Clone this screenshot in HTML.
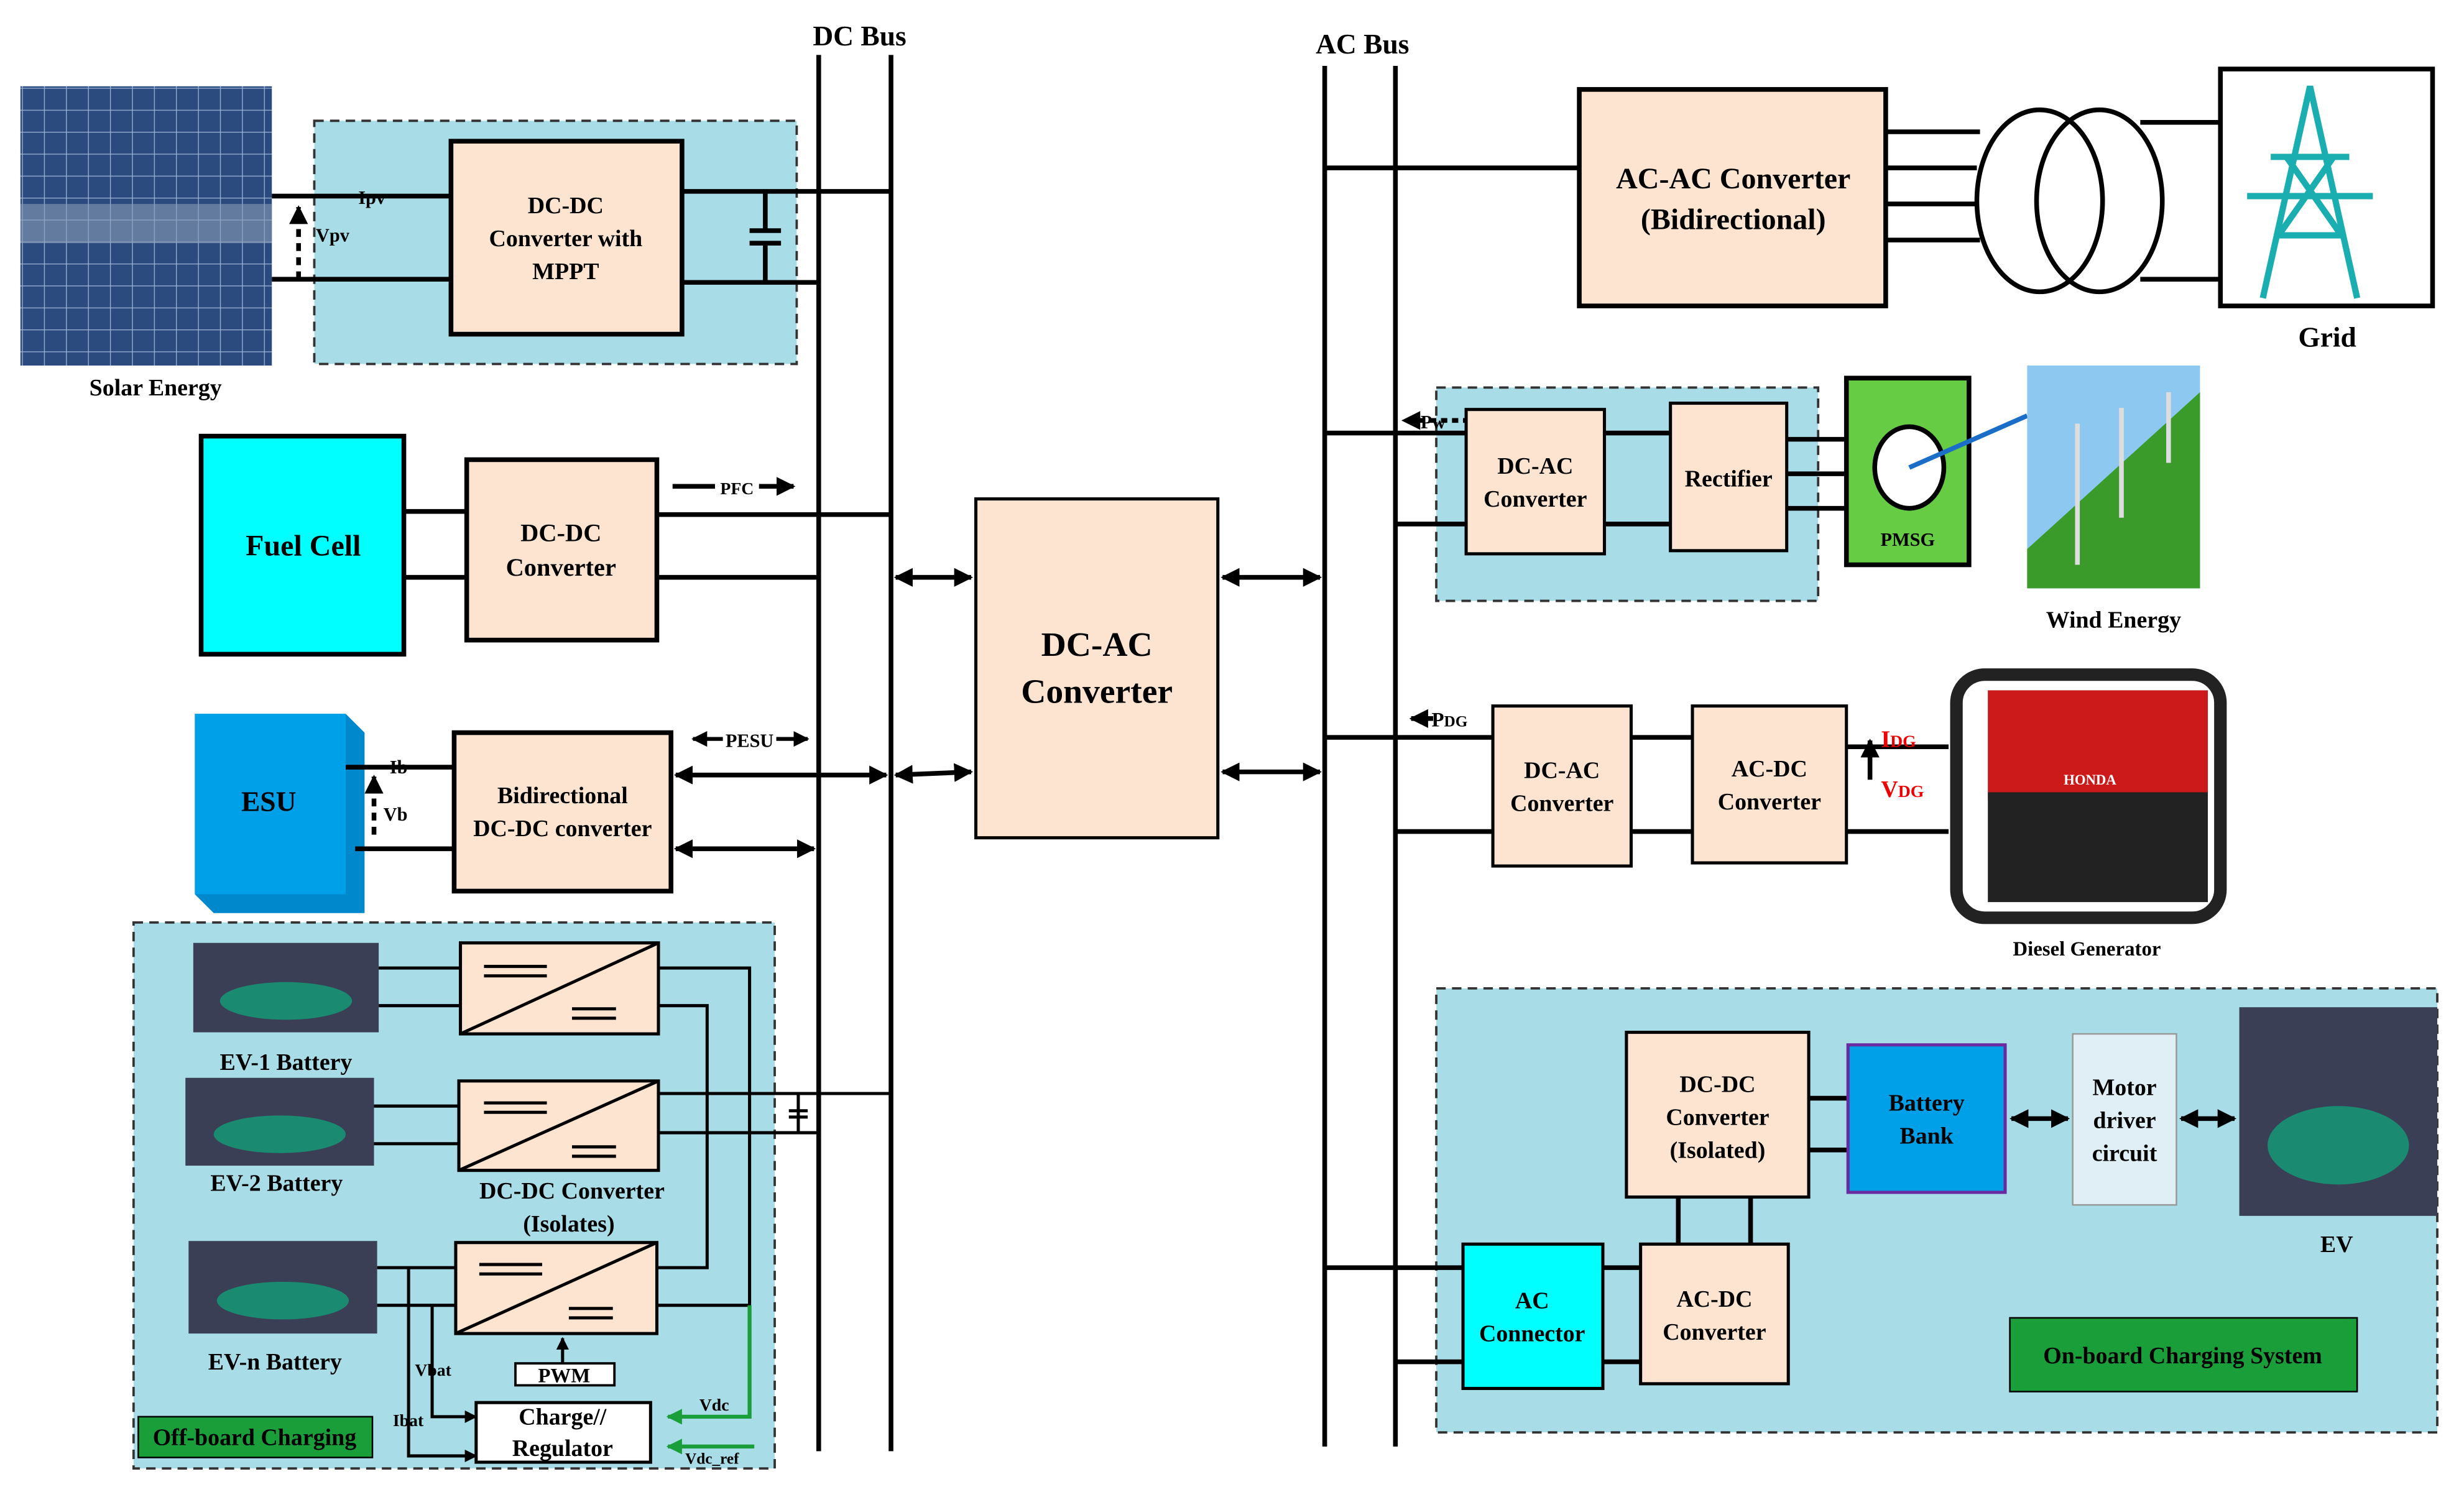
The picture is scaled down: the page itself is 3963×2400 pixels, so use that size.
<!DOCTYPE html>
<html><head><meta charset="utf-8"><style>
html,body{margin:0;padding:0;background:#fff}
svg{display:block}
text{font-family:"Liberation Serif",serif;font-weight:bold}
</style></head><body>
<svg width="3963" height="2400" viewBox="0 0 1568 951" preserveAspectRatio="none" xmlns="http://www.w3.org/2000/svg">
<defs>
<marker id="ah" viewBox="0 0 10 10" refX="9" refY="5" markerWidth="4" markerHeight="4" orient="auto-start-reverse"><path d="M0,0L10,5L0,10z" fill="#000"/></marker>
<marker id="ahg" viewBox="0 0 10 10" refX="9" refY="5" markerWidth="4" markerHeight="4" orient="auto"><path d="M0,0L10,5L0,10z" fill="#1a9e3a"/></marker>
<pattern id="sol" width="14" height="14" patternUnits="userSpaceOnUse"><rect width="14" height="14" fill="#2b4a7e"/><path d="M0,0H14M0,0V14" stroke="#9fb6d8" stroke-width="1"/></pattern>
</defs>
<g stroke="#000" stroke-width="3" fill="none">
<line x1="521" y1="35" x2="521" y2="925"/><line x1="567" y1="35" x2="567" y2="925"/>
<line x1="843" y1="42" x2="843" y2="922"/><line x1="888" y1="42" x2="888" y2="922"/>
</g>
<text x="547" y="29" font-size="18" text-anchor="middle">DC Bus</text>
<text x="867" y="34" font-size="18" text-anchor="middle">AC Bus</text>

<rect x="13" y="55" width="160" height="178" fill="url(#sol)"/>
<rect x="13" y="130" width="160" height="25" fill="#8a9cb8" opacity="0.6"/>
<text x="99" y="252" font-size="15" text-anchor="middle">Solar Energy</text>
<rect x="200" y="77" width="307" height="155" fill="#a8dde8" stroke="#333" stroke-width="1.5" stroke-dasharray="6,4"/>
<g stroke="#000" stroke-width="3" fill="none">
<line x1="173" y1="125" x2="287" y2="125"/><line x1="173" y1="178" x2="287" y2="178"/>
<line x1="434" y1="122" x2="567" y2="122"/><line x1="434" y1="180" x2="521" y2="180"/>
<line x1="487" y1="122" x2="487" y2="147"/><line x1="487" y1="155" x2="487" y2="180"/>
<line x1="477" y1="147" x2="497" y2="147"/><line x1="477" y1="155" x2="497" y2="155"/>
<line x1="190" y1="178" x2="190" y2="132" stroke-dasharray="5,4" marker-end="url(#ah)"/>
</g>
<rect x="287" y="90" width="147" height="123" fill="#fce4d0" stroke="#000" stroke-width="3"/>
<text font-size="15" text-anchor="middle"><tspan x="360" y="136">DC-DC</tspan><tspan x="360" y="157">Converter with</tspan><tspan x="360" y="178">MPPT</tspan></text>
<text x="228" y="130" font-size="12">Ipv</text><text x="201" y="154" font-size="12">Vpv</text>

<g stroke="#000" stroke-width="3" fill="none">
<line x1="257" y1="326" x2="297" y2="326"/><line x1="257" y1="368" x2="297" y2="368"/>
<line x1="418" y1="328" x2="567" y2="328"/><line x1="418" y1="368" x2="521" y2="368"/>
<line x1="428" y1="310" x2="505" y2="310" marker-end="url(#ah)"/>
</g>
<rect x="128" y="278" width="129" height="139" fill="#00ffff" stroke="#000" stroke-width="3"/>
<text x="193" y="354" font-size="19" text-anchor="middle">Fuel Cell</text>
<rect x="297" y="293" width="121" height="115" fill="#fce4d0" stroke="#000" stroke-width="3"/>
<text font-size="16" text-anchor="middle"><tspan x="357" y="345">DC-DC</tspan><tspan x="357" y="367">Converter</tspan></text>
<rect x="455" y="303" width="28" height="14" fill="#fff"/><text x="469" y="315" font-size="11" text-anchor="middle" font-weight="normal">PFC</text>

<polygon points="124,455 220,455 232,467 232,582 136,582 124,570" fill="#0088cc"/>
<rect x="124" y="455" width="96" height="115" fill="#00a0e8"/>
<text x="171" y="517" font-size="18" text-anchor="middle">ESU</text>
<g stroke="#000" stroke-width="3" fill="none">
<line x1="220" y1="489" x2="289" y2="489"/><line x1="226" y1="541" x2="289" y2="541"/>
<line x1="238" y1="532" x2="238" y2="495" stroke-dasharray="5,4" marker-end="url(#ah)"/>
<line x1="430" y1="494" x2="564" y2="494" marker-start="url(#ah)" marker-end="url(#ah)"/>
<line x1="430" y1="541" x2="518" y2="541" marker-start="url(#ah)" marker-end="url(#ah)"/>
<line x1="441" y1="471" x2="514" y2="471" marker-start="url(#ah)" marker-end="url(#ah)" stroke-width="2.5"/>
</g>
<rect x="460" y="464" width="34" height="14" fill="#fff"/><text x="477" y="476" font-size="12" text-anchor="middle">PESU</text>
<text x="248" y="493" font-size="12">Ib</text><text x="244" y="523" font-size="12">Vb</text>
<rect x="289" y="467" width="138" height="101" fill="#fce4d0" stroke="#000" stroke-width="3"/>
<text font-size="15" text-anchor="middle"><tspan x="358" y="512">Bidirectional</tspan><tspan x="358" y="533">DC-DC converter</tspan></text>

<g stroke="#000" stroke-width="3" fill="none">
<line x1="570" y1="368" x2="618" y2="368" marker-start="url(#ah)" marker-end="url(#ah)"/>
<line x1="570" y1="494" x2="618" y2="492" marker-start="url(#ah)" marker-end="url(#ah)"/>
<line x1="778" y1="368" x2="840" y2="368" marker-start="url(#ah)" marker-end="url(#ah)"/>
<line x1="778" y1="492" x2="840" y2="492" marker-start="url(#ah)" marker-end="url(#ah)"/>
</g>
<rect x="621" y="318" width="154" height="216" fill="#fce4d0" stroke="#000" stroke-width="2"/>
<text font-size="22" text-anchor="middle"><tspan x="698" y="418">DC-AC</tspan><tspan x="698" y="448">Converter</tspan></text>

<rect x="85" y="588" width="408" height="348" fill="#a8dde8" stroke="#333" stroke-width="1.5" stroke-dasharray="6,4"/>
<g stroke="#000" stroke-width="2" fill="none">
<line x1="241" y1="617" x2="293" y2="617"/><line x1="241" y1="641" x2="293" y2="641"/>
<line x1="238" y1="705" x2="292" y2="705"/><line x1="238" y1="729" x2="292" y2="729"/>
<line x1="240" y1="808" x2="290" y2="808"/><line x1="240" y1="832" x2="290" y2="832"/>
<polyline points="419,617 477,617 477,832 418,832"/>
<polyline points="419,641 450,641 450,808 418,808"/>
<line x1="419" y1="697" x2="567" y2="697"/><line x1="419" y1="722" x2="521" y2="722"/>
<line x1="508" y1="697" x2="508" y2="722"/><line x1="502" y1="708" x2="514" y2="708"/><line x1="502" y1="712" x2="514" y2="712"/>
<polyline points="260,808 260,928 303,928" marker-end="url(#ah)"/>
<polyline points="275,832 275,903 303,903" marker-end="url(#ah)"/>
<line x1="358" y1="869" x2="358" y2="853" marker-end="url(#ah)"/>
</g>
<g stroke="#1a9e3a" stroke-width="2.5" fill="none">
<polyline points="477,832 477,903 425,903" marker-end="url(#ahg)"/>
<line x1="480" y1="922" x2="425" y2="922" marker-end="url(#ahg)"/>
</g>
<g fill="#fce4d0" stroke="#000" stroke-width="2">
<rect x="293" y="601" width="126" height="58"/><rect x="292" y="689" width="127" height="57"/><rect x="290" y="792" width="128" height="58"/>
</g>
<g stroke="#000" stroke-width="2">
<line x1="293" y1="659" x2="419" y2="601"/><line x1="292" y1="746" x2="419" y2="689"/><line x1="290" y1="850" x2="418" y2="792"/>
<line x1="308" y1="616" x2="348" y2="616"/><line x1="308" y1="622" x2="348" y2="622"/><line x1="364" y1="643" x2="392" y2="643"/><line x1="364" y1="649" x2="392" y2="649"/>
<line x1="308" y1="703" x2="348" y2="703"/><line x1="308" y1="709" x2="348" y2="709"/><line x1="364" y1="731" x2="392" y2="731"/><line x1="364" y1="737" x2="392" y2="737"/>
<line x1="305" y1="806" x2="345" y2="806"/><line x1="305" y1="812" x2="345" y2="812"/><line x1="362" y1="834" x2="390" y2="834"/><line x1="362" y1="840" x2="390" y2="840"/>
</g>
<g>
<rect x="123" y="601" width="118" height="57" fill="#3a3f55"/><ellipse cx="182" cy="638" rx="42" ry="12" fill="#1a8a70"/>
<rect x="118" y="687" width="120" height="56" fill="#3a3f55"/><ellipse cx="178" cy="723" rx="42" ry="12" fill="#1a8a70"/>
<rect x="120" y="791" width="120" height="59" fill="#3a3f55"/><ellipse cx="180" cy="829" rx="42" ry="12" fill="#1a8a70"/>
</g>
<text x="182" y="682" font-size="15" text-anchor="middle">EV-1 Battery</text>
<text x="176" y="759" font-size="15" text-anchor="middle">EV-2 Battery</text>
<text x="175" y="873" font-size="15" text-anchor="middle">EV-n  Battery</text>
<text font-size="15" text-anchor="middle"><tspan x="364" y="764">DC-DC Converter</tspan><tspan x="362" y="785">(Isolates)</tspan></text>
<rect x="328" y="869" width="63" height="14" fill="#fff" stroke="#000" stroke-width="1.5"/>
<text x="359" y="881" font-size="13" text-anchor="middle" font-weight="normal">PWM</text>
<rect x="303" y="894" width="111" height="38" fill="#fff" stroke="#000" stroke-width="2"/>
<text font-size="15" text-anchor="middle"><tspan x="358" y="908">Charge//</tspan><tspan x="358" y="928">Regulator</tspan></text>
<text x="264" y="877" font-size="11" font-weight="normal">Vbat</text><text x="250" y="909" font-size="11" font-weight="normal">Ibat</text>
<text x="445" y="899" font-size="11">Vdc</text><text x="436" y="933" font-size="10">Vdc_ref</text>
<rect x="88" y="903" width="149" height="26" fill="#1a9e3a" stroke="#000" stroke-width="1"/>
<text x="162" y="921" font-size="15" text-anchor="middle">Off-board Charging</text>

<g stroke="#000" stroke-width="3" fill="none">
<line x1="843" y1="107" x2="1005" y2="107"/>
<line x1="1200" y1="84" x2="1260" y2="84"/><line x1="1200" y1="107" x2="1258" y2="107"/><line x1="1200" y1="130" x2="1258" y2="130"/><line x1="1200" y1="153" x2="1260" y2="153"/>
<line x1="1362" y1="78" x2="1413" y2="78"/><line x1="1362" y1="178" x2="1413" y2="178"/>
<ellipse cx="1298" cy="128" rx="40" ry="58"/><ellipse cx="1336" cy="128" rx="40" ry="58"/>
</g>
<rect x="1005" y="57" width="195" height="138" fill="#fce4d0" stroke="#000" stroke-width="3"/>
<text font-size="19" text-anchor="middle"><tspan x="1103" y="120">AC-AC Converter</tspan><tspan x="1103" y="146">(Bidirectional)</tspan></text>
<rect x="1413" y="44" width="135" height="151" fill="#fff" stroke="#000" stroke-width="3"/>
<g stroke="#1aaeb0" stroke-width="4" fill="none">
<polyline points="1440,190 1470,55 1500,190"/><line x1="1445" y1="100" x2="1495" y2="100"/><line x1="1430" y1="125" x2="1510" y2="125"/><line x1="1450" y1="150" x2="1490" y2="150"/>
<line x1="1455" y1="100" x2="1490" y2="150"/><line x1="1485" y1="100" x2="1450" y2="150"/>
</g>
<text x="1481" y="221" font-size="18" text-anchor="middle">Grid</text>

<rect x="914" y="247" width="243" height="136" fill="#a8dde8" stroke="#333" stroke-width="1.5" stroke-dasharray="6,4"/>
<g stroke="#000" stroke-width="3" fill="none">
<line x1="843" y1="276" x2="933" y2="276"/><line x1="888" y1="334" x2="933" y2="334"/>
<line x1="1021" y1="276" x2="1063" y2="276"/><line x1="1021" y1="334" x2="1063" y2="334"/>
<line x1="1137" y1="280" x2="1175" y2="280"/><line x1="1137" y1="302" x2="1175" y2="302"/><line x1="1137" y1="324" x2="1175" y2="324"/>
<line x1="935" y1="268" x2="893" y2="268" stroke-dasharray="4,3" marker-end="url(#ah)"/>
</g>
<text x="904" y="273" font-size="12">Pw</text>
<rect x="933" y="261" width="88" height="92" fill="#fce4d0" stroke="#000" stroke-width="2"/>
<text font-size="15" text-anchor="middle"><tspan x="977" y="302">DC-AC</tspan><tspan x="977" y="323">Converter</tspan></text>
<rect x="1063" y="257" width="74" height="94" fill="#fce4d0" stroke="#000" stroke-width="2"/>
<text x="1100" y="310" font-size="15" text-anchor="middle">Rectifier</text>
<rect x="1175" y="241" width="78" height="119" fill="#66cc44" stroke="#000" stroke-width="3"/>
<ellipse cx="1215" cy="298" rx="22" ry="26" fill="#fff" stroke="#000" stroke-width="3"/>
<line x1="1215" y1="298" x2="1290" y2="265" stroke="#1a6ec8" stroke-width="3"/>
<text x="1214" y="348" font-size="12" text-anchor="middle">PMSG</text>
<rect x="1290" y="233" width="110" height="142" fill="#8cc8f0"/>
<polygon points="1290,375 1290,350 1400,250 1400,375" fill="#3a9a2a"/>
<g stroke="#ddd" stroke-width="3"><line x1="1322" y1="270" x2="1322" y2="360"/><line x1="1350" y1="260" x2="1350" y2="330"/><line x1="1380" y1="250" x2="1380" y2="295"/></g>
<text x="1345" y="400" font-size="15" text-anchor="middle">Wind Energy</text>

<g stroke="#000" stroke-width="3" fill="none">
<line x1="843" y1="470" x2="950" y2="470"/><line x1="888" y1="530" x2="950" y2="530"/>
<line x1="1038" y1="470" x2="1077" y2="470"/><line x1="1038" y1="530" x2="1077" y2="530"/>
<line x1="1175" y1="476" x2="1240" y2="476"/><line x1="1175" y1="530" x2="1240" y2="530"/>
<line x1="1190" y1="497" x2="1190" y2="472" marker-end="url(#ah)"/>
<line x1="912" y1="458" x2="898" y2="458" marker-end="url(#ah)"/>
</g>
<text x="911" y="463" font-size="13" font-weight="normal">P<tspan font-size="10">DG</tspan></text>
<rect x="950" y="450" width="88" height="102" fill="#fce4d0" stroke="#000" stroke-width="2"/>
<text font-size="15" text-anchor="middle"><tspan x="994" y="496">DC-AC</tspan><tspan x="994" y="517">Converter</tspan></text>
<rect x="1077" y="450" width="98" height="100" fill="#fce4d0" stroke="#000" stroke-width="2"/>
<text font-size="15" text-anchor="middle"><tspan x="1126" y="495">AC-DC</tspan><tspan x="1126" y="516">Converter</tspan></text>
<text x="1197" y="476" font-size="15" fill="#e00" font-weight="normal">I<tspan font-size="11">DG</tspan></text>
<text x="1197" y="508" font-size="15" fill="#e00" font-weight="normal">V<tspan font-size="11">DG</tspan></text>
<rect x="1245" y="430" width="168" height="155" rx="18" fill="none" stroke="#222" stroke-width="8"/>
<rect x="1265" y="440" width="140" height="70" fill="#cc1a1a"/>
<rect x="1265" y="505" width="140" height="70" fill="#222"/>
<text x="1330" y="500" font-size="9" fill="#fff" text-anchor="middle">HONDA</text>
<text x="1328" y="609" font-size="13" text-anchor="middle">Diesel Generator</text>

<rect x="914" y="630" width="637" height="283" fill="#a8dde8" stroke="#333" stroke-width="1.5" stroke-dasharray="6,4"/>
<g stroke="#000" stroke-width="3" fill="none">
<line x1="843" y1="808" x2="931" y2="808"/><line x1="888" y1="868" x2="931" y2="868"/>
<line x1="1020" y1="808" x2="1044" y2="808"/><line x1="1020" y1="868" x2="1044" y2="868"/>
<line x1="1068" y1="763" x2="1068" y2="793"/><line x1="1114" y1="763" x2="1114" y2="793"/>
<line x1="1151" y1="700" x2="1176" y2="700"/><line x1="1151" y1="733" x2="1176" y2="733"/>
<line x1="1280" y1="713" x2="1316" y2="713" marker-start="url(#ah)" marker-end="url(#ah)"/>
<line x1="1388" y1="713" x2="1422" y2="713" marker-start="url(#ah)" marker-end="url(#ah)"/>
</g>
<rect x="1035" y="658" width="116" height="105" fill="#fce4d0" stroke="#000" stroke-width="2"/>
<text font-size="15" text-anchor="middle"><tspan x="1093" y="696">DC-DC</tspan><tspan x="1093" y="717">Converter</tspan><tspan x="1093" y="738">(Isolated)</tspan></text>
<rect x="1176" y="666" width="100" height="94" fill="#00a0e8" stroke="#6a2aa0" stroke-width="2"/>
<text font-size="15" text-anchor="middle"><tspan x="1226" y="708">Battery</tspan><tspan x="1226" y="729">Bank</tspan></text>
<rect x="1319" y="659" width="66" height="109" fill="#e0eef5" stroke="#999" stroke-width="1"/>
<text font-size="15" text-anchor="middle"><tspan x="1352" y="698">Motor</tspan><tspan x="1352" y="719">driver</tspan><tspan x="1352" y="740">circuit</tspan></text>
<rect x="1425" y="642" width="126" height="133" fill="#3a3f55"/>
<ellipse cx="1488" cy="730" rx="45" ry="25" fill="#1a8a70"/>
<text x="1487" y="798" font-size="15" text-anchor="middle">EV</text>
<rect x="931" y="793" width="89" height="92" fill="#00ffff" stroke="#000" stroke-width="2"/>
<text font-size="15" text-anchor="middle"><tspan x="975" y="834">AC</tspan><tspan x="975" y="855">Connector</tspan></text>
<rect x="1044" y="793" width="94" height="89" fill="#fce4d0" stroke="#000" stroke-width="2"/>
<text font-size="15" text-anchor="middle"><tspan x="1091" y="833">AC-DC</tspan><tspan x="1091" y="854">Converter</tspan></text>
<rect x="1279" y="840" width="221" height="47" fill="#1a9e3a" stroke="#000" stroke-width="1"/>
<text x="1389" y="869" font-size="15" text-anchor="middle">On-board Charging System</text>
</svg>
</body></html>
